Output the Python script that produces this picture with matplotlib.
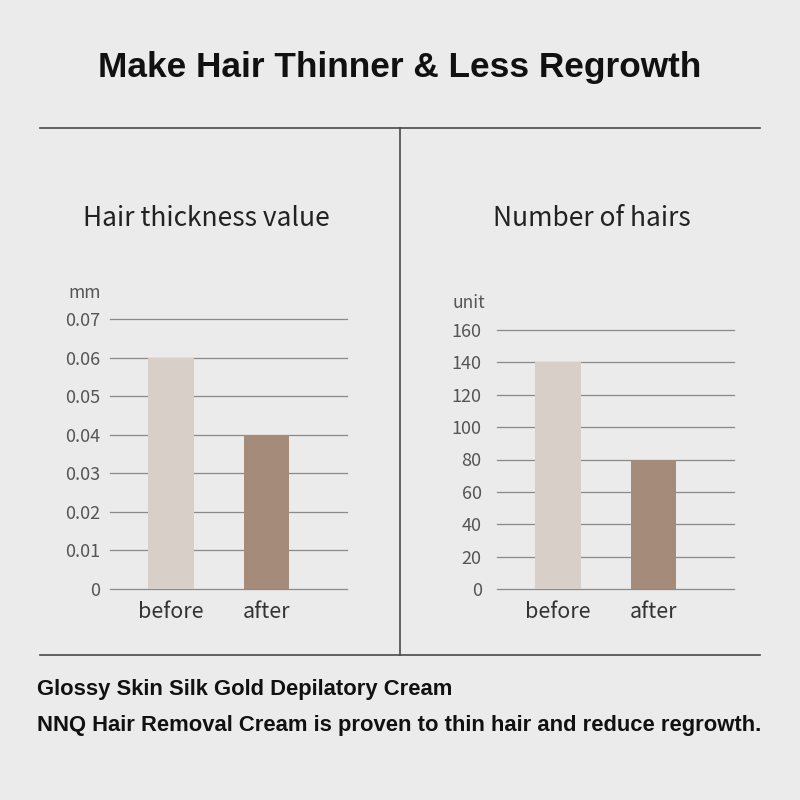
import matplotlib.pyplot as plt
from matplotlib.lines import Line2D

BG = "#ebebeb"
TEXT = "#111111"
SOFT = "#555555"
GRID = "#8a8a8a"
FRAME = "#4a4a4a"
BEFORE_COLOR = "#d8cfc9"
AFTER_COLOR = "#a58b7a"

categories = ["before", "after"]
thickness_values = [0.06, 0.04]
thickness_ticks = [0, 0.01, 0.02, 0.03, 0.04, 0.05, 0.06, 0.07]
thickness_labels = ["0", "0.01", "0.02", "0.03", "0.04", "0.05", "0.06", "0.07"]
hair_counts = [140, 80]
count_ticks = [0, 20, 40, 60, 80, 100, 120, 140, 160]

LIGHT_FONT = ["Noto Sans CJK SC", "DejaVu Sans"]

plt.rcParams["font.family"] = ["Liberation Sans", "DejaVu Sans"]

fig = plt.figure(figsize=(8, 8), dpi=100, facecolor=BG)


def px_axes(left, top, right, bottom):
    # pixel box (800x800 canvas) -> figure fraction
    return fig.add_axes([left / 800, 1 - bottom / 800, (right - left) / 800, (bottom - top) / 800])


def draw_panel(ax, values, ticks, tick_labels, ylim, unit, unit_xy, tick_pad):
    ax.set_facecolor("none")
    ax.bar(range(len(categories)), values, width=0.48,
           color=[BEFORE_COLOR, AFTER_COLOR], zorder=3)
    ax.set_xlim(-0.639, 1.843)
    ax.set_ylim(*ylim)
    ax.set_yticks(ticks)
    ax.set_yticklabels(tick_labels, family=LIGHT_FONT, fontsize=13, color=SOFT)
    ax.set_xticks(range(len(categories)))
    ax.set_xticklabels(categories, family=LIGHT_FONT, fontsize=15.5, color="#333333")
    ax.tick_params(axis="y", length=0, pad=tick_pad)
    ax.tick_params(axis="x", length=0, pad=9)
    ax.grid(axis="y", color=GRID, linewidth=0.9, zorder=1)
    ax.set_axisbelow(True)
    for line in ax.get_ygridlines():
        line.set_clip_on(False)
    for side in ax.spines.values():
        side.set_visible(False)
    ax.text(unit_xy[0], unit_xy[1], unit, transform=ax.transAxes, ha="right", va="center",
            family=LIGHT_FONT, fontsize=12.5, color=SOFT)
    return ax


ax1 = px_axes(110, 319, 347, 589)
draw_panel(ax1, thickness_values, thickness_ticks, thickness_labels, (0, 0.07),
           "mm", (-0.04, 1.096), 7)

ax2 = px_axes(497, 330, 734, 589)
draw_panel(ax2, hair_counts, count_ticks, [str(t) for t in count_ticks], (0, 160),
           "unit", (-0.05, 1.104), 11)

# panel titles
fig.text(206 / 800, 1 - 218 / 800, "Hair thickness value", ha="center", va="center",
         family=LIGHT_FONT, fontsize=19, color="#222222")
fig.text(592 / 800, 1 - 218 / 800, "Number of hairs", ha="center", va="center",
         family=LIGHT_FONT, fontsize=19, color="#222222")

# frame lines
for xs, ys in [((40, 760), (128, 128)), ((40, 760), (655, 655)), ((400, 400), (128, 655))]:
    fig.add_artist(Line2D([x / 800 for x in xs], [1 - y / 800 for y in ys],
                          color=FRAME, linewidth=1.2, transform=fig.transFigure))

fig.text(0.5, 1 - 68 / 800, "Make Hair Thinner & Less Regrowth", ha="center", va="center",
         fontsize=25.4, fontweight="bold", color=TEXT)

fig.text(37 / 800, 1 - 690 / 800, "Glossy Skin Silk Gold Depilatory Cream", ha="left",
         va="center", fontsize=15.8, fontweight="bold", color=TEXT)
fig.text(37 / 800, 1 - 725 / 800,
         "NNQ Hair Removal Cream is proven to thin hair and reduce regrowth.", ha="left",
         va="center", fontsize=15.8, fontweight="bold", color=TEXT)

fig.savefig("out.png", dpi=100, facecolor=BG)
